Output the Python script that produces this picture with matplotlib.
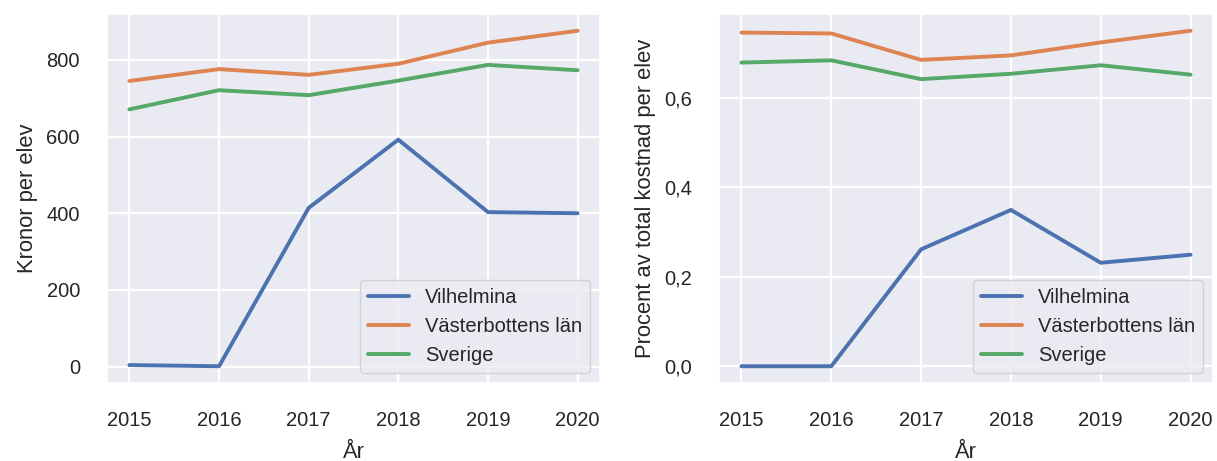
import matplotlib
matplotlib.use("Agg")
import matplotlib.pyplot as plt
import matplotlib.ticker as mticker
import seaborn as sns

years = [2015, 2016, 2017, 2018, 2019, 2020]
series_names = ["Vilhelmina", "Västerbottens län", "Sverige"]

# kronor per elev
kronor_vilhelmina = [4, 1, 414, 592, 403, 400]
kronor_vasterbotten = [745, 776, 761, 790, 845, 876]
kronor_sverige = [671, 721, 708, 746, 787, 773]

# andel av total kostnad per elev
andel_vilhelmina = [0.0, 0.0, 0.261, 0.349, 0.231, 0.249]
andel_vasterbotten = [0.745, 0.743, 0.684, 0.694, 0.723, 0.749]
andel_sverige = [0.678, 0.683, 0.641, 0.653, 0.672, 0.651]

sns.set_theme(font_scale=1.32)
plt.rcParams['font.family'] = ['Liberation Sans', 'DejaVu Sans']
plt.rcParams['grid.linewidth'] = 1.6

fig = plt.figure(figsize=(12.17, 4.61), dpi=100)
ax1 = fig.add_axes([107 / 1217, 1 - 383 / 461, 493 / 1217, 369 / 461])
ax2 = fig.add_axes([719 / 1217, 1 - 383 / 461, 494 / 1217, 369 / 461])

for vals, name in zip([kronor_vilhelmina, kronor_vasterbotten, kronor_sverige], series_names):
    ax1.plot(years, vals, label=name, linewidth=2.8)
ax1.legend(loc="lower right")

for vals, name in zip([andel_vilhelmina, andel_vasterbotten, andel_sverige], series_names):
    ax2.plot(years, vals, label=name, linewidth=2.8)
ax2.set_yticks([0.0, 0.2, 0.4, 0.6])
ax2.yaxis.set_major_formatter(mticker.FuncFormatter(lambda v, p: f"{v:.1f}".replace(".", ",")))
ax2.legend(loc="lower right")

ax1.set_ylabel("Kronor per elev", labelpad=6)
ax2.set_ylabel("Procent av total kostnad per elev", labelpad=6)
for ax in (ax1, ax2):
    ax.set_xlabel("År", labelpad=8.5)
    ax.tick_params(axis="x", pad=14)
    ax.tick_params(axis="y", pad=13.5)

fig.savefig("out.png")
